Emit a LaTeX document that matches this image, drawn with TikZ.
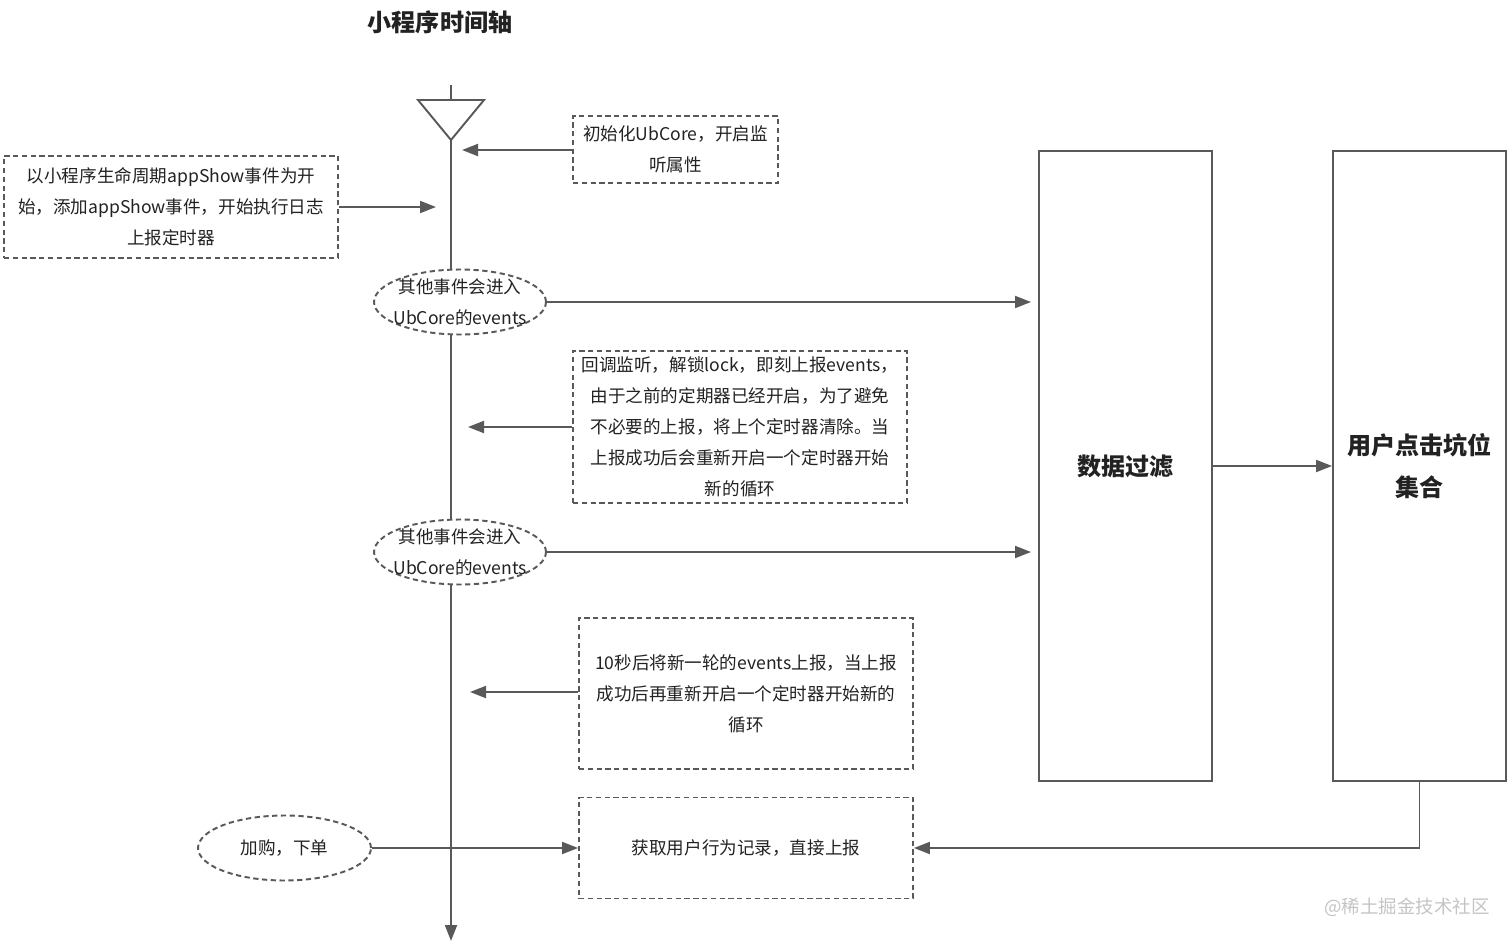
\documentclass[tikz,border=0pt]{standalone}
\usepackage{fontspec}
\setmainfont{Noto Sans CJK SC}
\usepackage{xcolor}
\usetikzlibrary{arrows.meta,positioning,shapes.geometric}
\definecolor{LGray}{HTML}{595959}
\definecolor{TDark}{HTML}{222222}
\definecolor{WMark}{HTML}{C4C4C4}

\begin{document}
\begin{tikzpicture}[
  x=0.02cm,y=-0.02cm,
  line width=1.1pt,
  every node/.style={text=TDark},
  note/.style={draw=LGray,dash pattern=on 3pt off 2pt,fill=white,
    align=center,font=\fontsize{10}{17.6}\selectfont,inner sep=0pt},
  evt/.style={ellipse,draw=LGray,dash pattern=on 3pt off 2pt,fill=white,
    minimum width=3.44cm,minimum height=1.3cm,inner sep=0pt,
    label={[align=center,text=TDark,font=\fontsize{10}{17.6}\selectfont]center:#1}},
  col/.style={draw=LGray,minimum width=3.46cm,minimum height=12.6cm,
    align=center,font=\bfseries\fontsize{13.7}{23.8}\selectfont},
  a/.style={-{Triangle[length=3.2mm,width=2.4mm]},color=LGray}
]
  \useasboundingbox (0,0) rectangle (1512,943);

  \node[font=\bfseries\fontsize{13.7}{16}\selectfont] (title) at (440,22) {小程序时间轴};

  \coordinate (ttop) at (451,85);
  \coordinate (tend) at (451,941);
  \coordinate (apex) at (451,140);
  \draw[LGray] (418,100) -- (484,100) -- (apex) -- cycle;
  \draw[LGray] (ttop) -- (451,100);
  \draw[a] (apex) -- (tend);

  \node[note,minimum width=4.1cm,minimum height=1.34cm] (init) at (675.5,149.5)
    {初始化UbCore，开启监\\听属性};
  \node[note,minimum width=6.68cm,minimum height=2.04cm] (start) at (171,207)
    {以小程序生命周期appShow事件为开\\始，添加appShow事件，开始执行日志\\上报定时器};
  \node[evt={其他事件会进入\\UbCore的events}] (ev1) at (460,302) {};
  \node[note,minimum width=6.68cm,minimum height=3.04cm] (unlock) at (740,427)
    {回调监听，解锁lock，即刻上报events，\\由于之前的定期器已经开启，为了避免\\不必要的上报，将上个定时器清除。当\\上报成功后会重新开启一个定时器开始\\新的循环};
  \node[evt={其他事件会进入\\UbCore的events}] (ev2) at (460,552) {};
  \node[note,minimum width=6.68cm,minimum height=3.02cm] (loop) at (746,693.5)
    {10秒后将新一轮的events上报，当上报\\成功后再重新开启一个定时器开始新的\\循环};
  \node[note,minimum width=6.68cm,minimum height=2.02cm] (direct) at (746,848)
    {获取用户行为记录，直接上报};
  \node[evt={加购，下单},minimum width=3.46cm] (buy) at (284.5,848) {};

  \node[col] (filter) at (1125.5,466) {数据过滤};
  \node[col] (clicks) at (1419.5,466) {用户点击坑位\\集合};

  \coordinate (t1) at (462,150);
  \coordinate (t2) at (436,207);
  \coordinate (t3) at (468,427);
  \coordinate (t4) at (470,692);
  \draw[a] (init.west |- t1) -- (t1);
  \draw[a] (start.east) -- (t2);
  \draw[a] (unlock.west |- t3) -- (t3);
  \draw[a] (loop.west |- t4) -- (t4);
  \foreach \e in {ev1,ev2}
    {\draw[a,shorten >=4pt] (\e.east) -- (\e.east -| filter.west);}
  \draw[a] (filter) -- (clicks);
  \draw[a] (buy.east) -- (direct.west);
  \draw[a] (clicks.south) |- (direct.east);

  \node[text=WMark,font=\fontsize{10.5}{12}\selectfont] (mark) at (1407,907) {@稀土掘金技术社区};
\end{tikzpicture}
\end{document}
